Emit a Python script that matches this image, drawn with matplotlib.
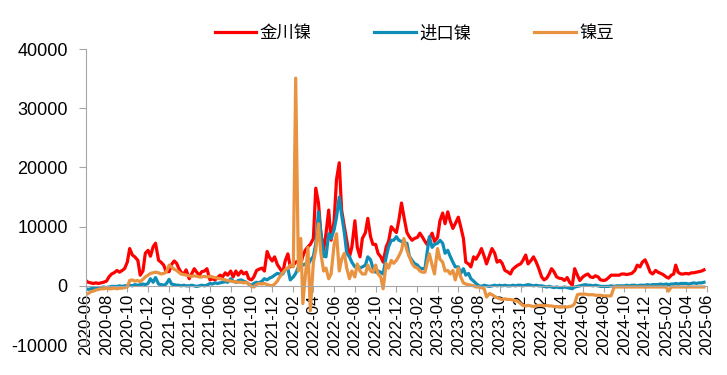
import pandas as pd
import matplotlib
matplotlib.use('Agg')
import matplotlib.pyplot as plt

plt.rcParams['font.family'] = ['Liberation Sans', 'Noto Sans CJK SC']
plt.rcParams['axes.unicode_minus'] = False

# 每月取4个点 (1日, 8日, 16日, 23日), 2020-06 ~ 2025-05
months = pd.date_range('2020-06-01', '2025-05-01', freq='MS')
dates = [m + pd.Timedelta(days=d) for m in months for d in (0, 7, 15, 22)]

# 金川镍
jinchuan = [
    900, 600, 500, 400,   500, 400, 500, 600,   800, 1500, 2000, 2200,   2600, 2300, 2600, 2900,
    4000, 6300, 5200, 4900,   4300, 1800, 2500, 5500,   6000, 5000, 6600, 7200,
    4300, 4000, 3500, 2400,   2400, 3600, 4200, 3800,   3000, 2300, 2000, 2700,
    1200, 2000, 2900, 2300,   1800, 2400, 2500, 2900,   1000, 1200, 1000, 1400,
    1800, 1500, 2200, 1800,   2500, 1500, 2500, 1800,   2500, 2000, 2300, 1200,
    1000, 1500, 2600, 2800,   3000, 2500, 5800, 4800,   4200, 4900, 3600, 3000,
    2200, 4200, 5400, 3200,   3500, 4000, 4200, 3800,   5000, 6000, 6600, 7000,
    8000, 16500, 14000, 8800,   6000, 8800, 12800, 7700,   11000, 18000, 20800, 12800,
    10000, 7700, 4900, 6500,   11000, 6500, 4900, 8000,   9000, 11400, 8300, 7000,
    7000, 5500, 4900, 4000,   6600, 7500, 10000, 9500,   9000, 11000, 14000, 11700,
    9000, 8300, 7700, 8000,   8200, 8900, 8200, 7500,   7000, 8000, 8900, 7500,
    8200, 11000, 12300, 10500,   12500, 11000, 9700, 10500,   11600, 10000, 8000, 4000,
    3700, 3200, 4900, 4500,   5400, 6300, 5000, 3700,   5200, 6300, 5500, 4000,
    4300, 3800, 2600, 2400,   2000, 2800, 3200, 3500,   3700, 4300, 5200, 3700,
    4300, 4900, 4000, 3000,   1500, 1000, 1300, 2000,   2900, 2400, 1500, 1300,
    1200, 900, 1400, 600,   100, 2900, 1800, 900,   1500, 1800, 2000, 1500,
    1400, 1700, 1500, 1000,   900, 1000, 1400, 1800,   1800, 1800, 1800, 2000,
    2000, 1900, 2000, 2100,   2600, 3500, 3200, 4000,   4400, 3500, 2300, 2000,
    2600, 2300, 2100, 1900,   1500, 1300, 1800, 2000,   3500, 2300, 2000, 2000,
    2100, 2000, 2200, 2200,   2300, 2400, 2500, 2700,
]

# 进口镍
jinkou = [
    -500, -600, -500, -400,   -400, -300, -300, -200,   -300, -200, -100, -100,   -100, 0, -100, 0,
    0, 100, 0, 200,   100, 200, 300, 200,   400, 1200, 600, 1400,
    300, 200, 100, 300,   1100, 300, 200, 100,   100, 0, 100, 0,
    0, 100, 0, -100,   0, 100, 0, 100,   400, 300, 500, 400,
    500, 600, 700, 600,   1200, 800, 600, 900,   1000, 800, 600, 300,
    100, 400, 600, 500,   800, 1200, 1000, 1300,   1500, 1800, 2100, 2000,
    2000, 2700, 2900, 1000,   1500, 2100, 3200, 3300,   3500, 3700, 3500, 4300,
    5000, 7100, 12500, 9000,   5000, 4900, 8800, 8000,   9500, 11600, 15000, 12000,
    9000, 5500, 4900, 4000,   3200, 3400, 3000, 3200,   3500, 4900, 4400, 3000,
    2300, 2500, 2300, 2000,   4900, 6600, 7700, 7700,   8300, 7700, 7500, 7200,
    7200, 5000, 4300, 3800,   3500, 3000, 2900, 2900,   5500, 8300, 6500, 7000,
    7200, 7700, 7200, 5500,   6000, 5000, 4000, 3200,   3200, 2100, 2900, 1800,
    2100, 1200, 800, 400,   0, -100, 100, 0,   -100, 0, 100, 0,
    100, 0, 100, 0,   0, 100, 0, 100,   100, 0, 100, 200,
    100, 0, 100, 0,   0, -100, -200, -100,   -200, -300, -200, -300,
    -300, -200, -300, -400,   -500, -200, -100, 0,   100, 200, 100, 100,
    0, 100, 0, -100,   -100, -100, -100, 0,   -100, 0, 0, 0,
    0, 100, 0, 100,   100, 0, 100, 100,   100, 200, 100, 200,
    200, 200, 300, 200,   300, 200, 300, 300,   400, 300, 400, 400,
    400, 300, 400, 500,   400, 500, 500, 600,
]

# 镍豆
niedou = [
    -1500, -1300, -1000, -900,   -700, -600, -500, -500,   -400, -500, -500, -400,   -500, -400, -400, -300,
    -200, 900, 1000, 800,   900, 700, 1100, 1500,   1800, 2100, 2200, 2300,
    2200, 2000, 2100, 2300,   3500, 3200, 2800, 2600,   2300, 2000, 1900, 1800,
    1700, 1600, 1700, 1600,   1500, 1500, 1600, 1500,   1600, 1500, 1400, 1300,
    1200, 1100, 1000, 900,   800, 700, 700, 600,   600, 500, 600, 300,
    -100, -200, 200, 400,   300, 400, 200, 100,   0, 300, 800, 1500,
    2200, 2700, 3000, 3500,   3200, 35100, 2500, 8000,   -3000, 1500, 6500, -4200,
    4000, 6000, 10500, 5500,   2500, 3000, 1200, 2000,   7000, 8800, 2500, 4500,
    5500, 3000, 1200, 2500,   1500, 3700, 2500, 2000,   2000, 3500, 2500, 2300,
    3500, 2000, 1500, -500,   3800, 3000, 4300, 3800,   4300, 5000, 6000, 8000,
    6000, 4900, 3800, 3200,   3000, 2500, 2300, 2300,   3800, 5400, 3500, 2000,
    6300, 4500, 4000, 2500,   2600, 2000, 2600, 1000,   3000, 1500, 500, 300,
    200, 100, 0, -200,   -200, -300, -500, -1900,   -1300, -1500, -1800, -2000,
    -2200, -2300, -2200, -2300,   -2300, -2400, -2500, -2600,   -3000, -3300, -3400, -3300,
    -3400, -3500, -3400, -3300,   -3300, -3400, -3300, -3400,   -3400, -3500, -3500, -3600,
    -3600, -3500, -3600, -3500,   -3400, -3000, -1500, -1400,   -1400, -1400, -1500, -1500,
    -1500, -1600, -1600, -1600,   -1700, -1700, -1700, -1700,   -200, -200, -200, -200,
    -200, -200, -200, -200,   -200, -200, -200, -200,   -200, -200, -200, -200,
    -200, -200, -200, -200,   -200, -900, -200, -200,   -200, -200, -200, -200,
    -200, -200, -200, -200,   -200, -200, -200, -200,
]

fig = plt.figure(figsize=(7.27, 3.75), dpi=100)
ax = fig.add_axes([0.118, 0.08, 0.8545, 0.789])

ax.plot(dates, jinchuan, color='#FF0000', lw=2.3, label='金川镍')
ax.plot(dates, jinkou, color='#0E8DB7', lw=2.3, label='进口镍')
ax.plot(dates, niedou, color='#E9923F', lw=2.3, label='镍豆')

ax.set_ylim(-10000, 40000)
ax.set_yticks(range(-10000, 40001, 10000))
ax.set_xlim(pd.Timestamp('2020-06-01'), pd.Timestamp('2025-06-01'))
xt = pd.date_range('2020-06-01', '2025-06-01', freq='2MS')
ax.set_xticks(xt)
ax.set_xticklabels([d.strftime('%Y-%m') for d in xt])

for s in ['top', 'right']:
    ax.spines[s].set_visible(False)
ax.spines['bottom'].set_position(('data', 0))
ax.spines['bottom'].set_color('#A6A6A6')
ax.spines['left'].set_color('#A6A6A6')
ax.tick_params(axis='x', length=4, color='#A6A6A6', pad=2, labelrotation=90, labelsize=12)
ax.tick_params(axis='y', length=5, color='#A6A6A6', labelsize=13, pad=8)

fig.legend(loc='upper center', bbox_to_anchor=(0.57, 0.975), ncol=3, frameon=False,
           fontsize=12.5, handlelength=2.4, handletextpad=0.2, columnspacing=3.6)

fig.savefig('out.png', dpi=100)
